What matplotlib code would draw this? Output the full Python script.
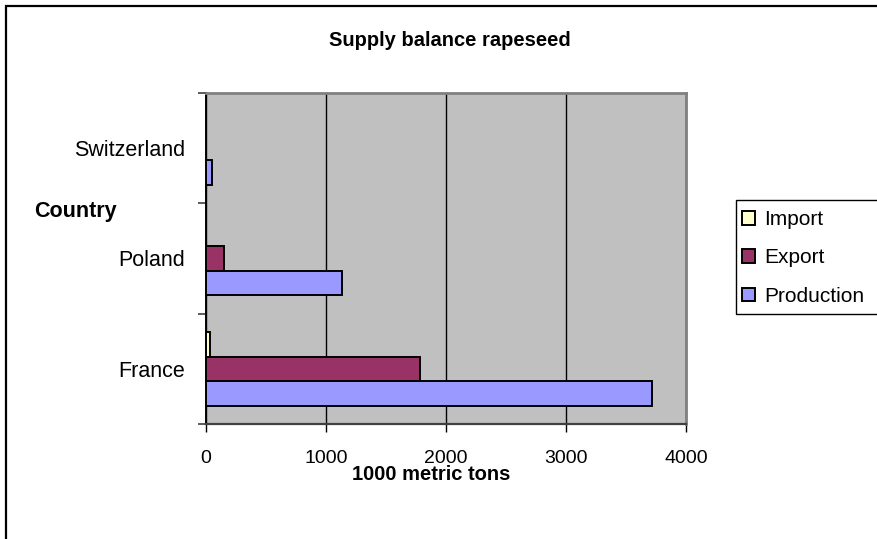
import matplotlib
matplotlib.use("Agg")
import matplotlib.pyplot as plt
from matplotlib.patches import Rectangle, Patch
import numpy as np

plt.rcParams['font.family'] = ['Liberation Sans', 'DejaVu Sans']

countries = ["France", "Poland", "Switzerland"]
series_names = ["Import", "Export", "Production"]
imports = [30, 0, 0]
exports = [1780, 150, 0]
production = [3720, 1135, 50]
x_ticks = [0, 1000, 2000, 3000, 4000]

colors = {"Import": "#FFFFCC", "Export": "#993366", "Production": "#9999FF"}

W, H = 877, 539
fig = plt.figure(figsize=(W / 100, H / 100), dpi=100)

# outer chart frame (left and top edges visible)
fig.patches.append(Rectangle((6 / W, -0.1), 1.2, (H - 6) / H + 0.1,
                             transform=fig.transFigure, fill=False,
                             edgecolor="black", linewidth=1.6, zorder=0))

ax = fig.add_axes([206 / W, 115 / H, 480 / W, 331 / H])
ax.set_facecolor("#C0C0C0")

y = np.arange(len(countries))
h = 1 / 4.5
ax.barh(y - h, production, height=h, color=colors["Production"],
        edgecolor="black", linewidth=1.4, zorder=3, label="Production")
ax.barh(y, exports, height=h, color=colors["Export"],
        edgecolor="black", linewidth=1.4, zorder=3, label="Export")
ax.barh(y + h, imports, height=h, color=colors["Import"],
        edgecolor="black", linewidth=1.4, zorder=3, label="Import")

ax.set_xlim(0, 4000)
ax.set_ylim(-0.5, len(countries) - 0.5)
ax.set_xticks(x_ticks)
ax.set_xticklabels([str(t) for t in x_ticks], fontsize=14)
ax.xaxis.grid(True, color="black", linewidth=1.0, zorder=1)
ax.set_axisbelow(True)

ax.set_yticks(y)
ax.set_yticklabels(countries, fontsize=15.5)
ax.tick_params(axis="y", length=0, pad=15)
ax.set_yticks(np.arange(-0.5, len(countries)), minor=True)
ax.tick_params(axis="y", which="minor", length=6, width=1.2, color="#404040")
ax.tick_params(axis="x", length=6, width=1.0, pad=12.5, color="black")

for side in ("top", "right"):
    ax.spines[side].set_color("#808080")
    ax.spines[side].set_linewidth(2)
ax.spines["left"].set_color("black")
ax.spines["left"].set_linewidth(1.4)
ax.spines["bottom"].set_color("#404040")
ax.spines["bottom"].set_linewidth(1.6)

fig.text(450 / W, 1 - 40 / H, "Supply balance rapeseed", fontsize=14.5,
         fontweight="bold", ha="center", va="center")
fig.text(75 / W, 1 - 212 / H, "Country", fontsize=15.5, fontweight="bold",
         ha="center", va="center")
fig.text(431 / W, 1 - 480 / H, "1000 metric tons", fontsize=14.5,
         fontweight="bold", ha="center", va="baseline")

# legend box
fig.patches.append(Rectangle((736 / W, 1 - 314 / H), 0.3, 114 / H,
                             transform=fig.transFigure, facecolor="white",
                             edgecolor="black", linewidth=1.0, zorder=1))
handles = [Patch(facecolor=colors[n], edgecolor="black", linewidth=1.4, label=n)
           for n in series_names]
leg = fig.legend(handles=handles, loc="upper left",
                 bbox_to_anchor=(736 / W, 1 - 204 / H), frameon=False,
                 fontsize=15, handlelength=0.6, handleheight=0.6,
                 handletextpad=0.45, labelspacing=0.92, borderaxespad=0,
                 borderpad=0.3)
leg.set_zorder(2)

fig.savefig("out.png", dpi=100)
